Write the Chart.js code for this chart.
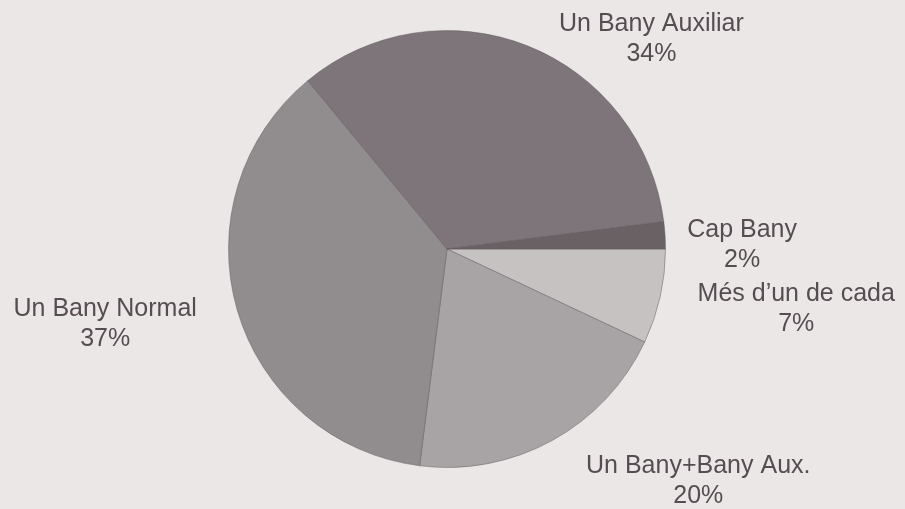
<!DOCTYPE html>
<html>
<head>
<meta charset="utf-8">
<title>Banys per habitatge</title>
<script src="https://cdn.jsdelivr.net/npm/chart.js@4/dist/chart.umd.min.js"></script>
<style>
  html, body { margin: 0; padding: 0; background: #ebe7e6; }
  #wrap { width: 905px; height: 509px; position: relative; }
</style>
</head>
<body>
<div id="wrap"><canvas id="pie"></canvas></div>
<script>
// slices in clockwise order, starting at 3 o'clock
const labels = ["Més d’un de cada", "Un Bany+Bany Aux.", "Un Bany Normal", "Un Bany Auxiliar", "Cap Bany"];
const percents = [7, 20, 37, 34, 2];
const colors = ["#c5c2c1", "#a8a4a5", "#918c8e", "#7d7579", "#6a6165"];

// label anchor = slice mid-angle on the rim, nudged by [dx, dy]
const labelNudge = [[136, 12], [146, 41], [-132, 14], [124, -7], [77, 10]];

const outsideLabels = {
  id: "outsideLabels",
  afterDatasetsDraw(chart) {
    const { ctx } = chart;
    const meta = chart.getDatasetMeta(0);
    ctx.save();
    ctx.font = "25px 'Liberation Sans', Arial, sans-serif";
    ctx.fillStyle = "#564d52";
    ctx.textAlign = "center";
    ctx.textBaseline = "middle";
    meta.data.forEach((arc, i) => {
      const { x, y, startAngle, endAngle, outerRadius } =
        arc.getProps(["x", "y", "startAngle", "endAngle", "outerRadius"], true);
      const mid = (startAngle + endAngle) / 2;
      const lx = x + Math.cos(mid) * outerRadius + labelNudge[i][0];
      const ly = y + Math.sin(mid) * outerRadius + labelNudge[i][1];
      ctx.fillText(labels[i], lx, ly - 15);
      ctx.fillText(percents[i] + "%", lx, ly + 15);
    });
    ctx.restore();
  },
};

new Chart(document.querySelector("#pie"), {
  type: "pie",
  data: {
    labels,
    datasets: [{
      data: percents,
      backgroundColor: colors,
      borderColor: "rgba(95,85,90,0.45)",
      borderWidth: 1,
    }],
  },
  options: {
    responsive: true,
    maintainAspectRatio: false,
    animation: false,
    rotation: 90,
    layout: { padding: { left: 228, right: 239, top: 30, bottom: 41 } },
    plugins: { legend: { display: false }, tooltip: { enabled: false } },
  },
  plugins: [outsideLabels],
});
</script>
</body>
</html>
